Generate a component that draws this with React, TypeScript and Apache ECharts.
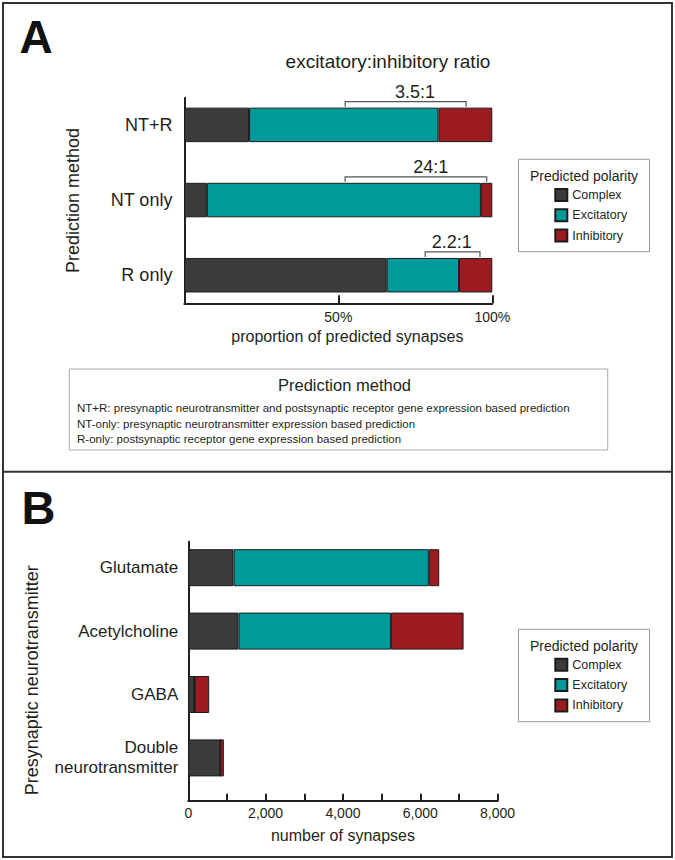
import React, { useEffect, useRef } from 'react';
import * as echarts from 'echarts';

// ---------- data ----------
const seriesNames = ['Complex', 'Excitatory', 'Inhibitory'];
const seriesColors = ['#3b3b3b', '#009a9a', '#9b1b20'];

// Panel A: proportion of predicted synapses (%)
const categoriesA = ['NT+R', 'NT only', 'R only'];
const complexA = [21.0, 7.3, 65.7];
const excitatoryA = [61.5, 89.0, 23.5];
const inhibitoryA = [17.5, 3.7, 10.8];

// excitatory:inhibitory ratio brackets (in % of axis)
const ratioLabels = ['3.5:1', '24:1', '2.2:1'];
const ratioStart = [52.2, 52.2, 78.2];
const ratioEnd = [91.5, 98.2, 96.0];
const ratioLabelAt = [74.9, 80.0, 86.8];

// Panel B: number of synapses
const categoriesB = ['Glutamate', 'Acetylcholine', 'GABA', 'Double\nneurotransmitter'];
const complexB = [1170, 1300, 160, 825];
const excitatoryB = [5050, 3940, 0, 0];
const inhibitoryB = [270, 1880, 380, 95];

const methodNotes = [
  'NT+R: presynaptic neurotransmitter and postsynaptic receptor gene expression based prediction',
  'NT-only: presynaptic neurotransmitter expression based prediction',
  'R-only: postsynaptic receptor gene expression based prediction',
];

// ---------- styles ----------
const FONT = '"Liberation Sans", Arial, Helvetica, sans-serif';
const INK = '#231f20';
const BAR_A = 34.5;
const BAR_B = 37;

function barSeries(name: string, idx: number, data: number[], axis: number, stack: string, width: number) {
  return {
    type: 'bar',
    name,
    stack,
    xAxisIndex: axis,
    yAxisIndex: axis,
    barWidth: width,
    data,
    itemStyle: { color: seriesColors[idx], borderColor: '#1c1c1c', borderWidth: 1 },
    emphasis: { disabled: true },
  };
}

function legendAt(top: number) {
  return {
    data: seriesNames,
    orient: 'vertical',
    left: 554.3,
    top,
    padding: 0,
    itemWidth: 12,
    itemHeight: 12,
    itemGap: 5.3,
    icon: 'rect',
    selectedMode: false,
    textStyle: { fontSize: 12.5, fontFamily: FONT, color: INK, lineHeight: 15, padding: [0, 0, 0, 0] },
  };
}

function legendBox(top: number) {
  return [
    {
      type: 'rect',
      shape: { x: 518.5, y: top, width: 131, height: 92.4 },
      style: { fill: 'none', stroke: '#9a9a9a', lineWidth: 1 },
    },
    {
      type: 'text',
      x: 584,
      y: top + 16.7,
      style: { text: 'Predicted polarity', fontSize: 14, fontFamily: FONT, fill: INK, align: 'center', verticalAlign: 'middle' },
    },
  ];
}

const axisLineStyle = { color: INK, width: 2 };

const option: any = {
  animation: false,
  textStyle: { fontFamily: FONT },
  grid: [
    { left: 184.4, top: 87.3, width: 307.9, height: 225.5 },
    { left: 184.4, top: 97.7, width: 307.9, height: 205.6 },
    { left: 188.3, top: 536, width: 309.3, height: 253.6 },
    { left: 188.3, top: 541.7, width: 309.3, height: 259 },
  ],
  xAxis: [
    { gridIndex: 0, type: 'value', min: 0, max: 100, show: false },
    {
      gridIndex: 1,
      type: 'value',
      min: 0,
      max: 100,
      interval: 50,
      axisLine: { show: true, onZero: false, lineStyle: axisLineStyle },
      axisTick: { show: true, inside: true, length: 8, lineStyle: axisLineStyle },
      axisLabel: {
        margin: 7,
        fontSize: 14,
        color: INK,
        fontFamily: FONT,
        formatter: (v: number) => (v === 0 ? '' : v + '%'),
      },
      splitLine: { show: false },
      name: 'proportion of predicted synapses',
      nameLocation: 'middle',
      nameGap: 25.5,
      nameTextStyle: { fontSize: 16, color: INK, fontFamily: FONT, padding: [0, 0, 0, 18] },
    },
    { gridIndex: 2, type: 'value', min: 0, max: 8000, show: false },
    {
      gridIndex: 3,
      type: 'value',
      min: 0,
      max: 8000,
      interval: 1000,
      axisLine: { show: true, onZero: false, lineStyle: axisLineStyle },
      axisTick: { show: true, inside: true, length: 7, lineStyle: axisLineStyle },
      axisLabel: {
        margin: 5.6,
        fontSize: 14,
        color: INK,
        fontFamily: FONT,
        formatter: (v: number) => (v % 2000 === 0 ? v.toLocaleString('en-US') : ''),
      },
      splitLine: { show: false },
      name: 'number of synapses',
      nameLocation: 'middle',
      nameGap: 26.3,
      nameTextStyle: { fontSize: 16, color: INK, fontFamily: FONT },
    },
  ],
  yAxis: [
    {
      gridIndex: 0,
      type: 'category',
      data: categoriesA,
      inverse: true,
      axisLine: { show: false },
      axisTick: { show: false },
      axisLabel: { margin: 12, fontSize: 18, color: INK, fontFamily: FONT },
    },
    {
      gridIndex: 1,
      type: 'value',
      min: 0,
      max: 1,
      axisLine: { show: true, onZero: false, lineStyle: axisLineStyle },
      axisTick: { show: false },
      axisLabel: { show: false },
      splitLine: { show: false },
      name: 'Prediction method',
      nameLocation: 'middle',
      nameRotate: 90,
      nameGap: 101,
      nameTextStyle: { fontSize: 18, color: INK, fontFamily: FONT, lineHeight: 20 },
    },
    {
      gridIndex: 2,
      type: 'category',
      data: categoriesB,
      inverse: true,
      axisLine: { show: false },
      axisTick: { show: false },
      axisLabel: { margin: 10, fontSize: 17, lineHeight: 20, color: INK, fontFamily: FONT },
    },
    {
      gridIndex: 3,
      type: 'value',
      min: 0,
      max: 1,
      axisLine: { show: true, onZero: false, lineStyle: axisLineStyle },
      axisTick: { show: false },
      axisLabel: { show: false },
      splitLine: { show: false },
      name: 'Presynaptic neurotransmitter',
      nameLocation: 'middle',
      nameRotate: 90,
      nameGap: 146,
      nameTextStyle: { fontSize: 18, color: INK, fontFamily: FONT, lineHeight: 20, padding: [0, 18, 0, 0] },
    },
  ],
  legend: [legendAt(187.5), legendAt(657.3)],
  series: [
    barSeries(seriesNames[0], 0, complexA, 0, 'A', BAR_A),
    barSeries(seriesNames[1], 1, excitatoryA, 0, 'A', BAR_A),
    barSeries(seriesNames[2], 2, inhibitoryA, 0, 'A', BAR_A),
    {
      type: 'custom',
      xAxisIndex: 0,
      yAxisIndex: 0,
      clip: false,
      silent: true,
      encode: { x: [0, 1, 3], y: 2 },
      data: categoriesA.map((_, i) => [ratioStart[i], ratioEnd[i], i, ratioLabelAt[i]]),
      renderItem: (params: any, api: any) => {
        const i = params.dataIndex;
        const a = api.coord([api.value(0), api.value(2)]);
        const b = api.coord([api.value(1), api.value(2)]);
        const t = api.coord([api.value(3), api.value(2)]);
        const ly = a[1] - BAR_A / 2 - 6;
        return {
          type: 'group',
          children: [
            {
              type: 'polyline',
              shape: { points: [[a[0], ly + 5], [a[0], ly], [b[0], ly], [b[0], ly + 5]] },
              style: { stroke: '#555', lineWidth: 1.2, fill: 'none' },
            },
            {
              type: 'text',
              x: t[0],
              y: ly - 9.5,
              style: { text: ratioLabels[i], fontSize: 18, fontFamily: FONT, fill: INK, align: 'center', verticalAlign: 'middle' },
            },
          ],
        };
      },
    },
    barSeries(seriesNames[0], 0, complexB, 2, 'B', BAR_B),
    barSeries(seriesNames[1], 1, excitatoryB, 2, 'B', BAR_B),
    barSeries(seriesNames[2], 2, inhibitoryB, 2, 'B', BAR_B),
  ],
  graphic: [
    {
      type: 'rect',
      shape: { x: 3, y: 3, width: 669, height: 854 },
      style: { fill: 'none', stroke: '#333', lineWidth: 2 },
    },
    {
      type: 'line',
      shape: { x1: 3, y1: 471.7, x2: 672, y2: 471.7 },
      style: { stroke: '#333', lineWidth: 2 },
    },
    {
      type: 'text',
      x: 19.5,
      y: 36.5,
      style: { text: 'A', fontSize: 46, fontWeight: 'bold', fontFamily: FONT, fill: '#111', align: 'left', verticalAlign: 'middle' },
    },
    {
      type: 'text',
      x: 21.5,
      y: 507,
      style: { text: 'B', fontSize: 47, fontWeight: 'bold', fontFamily: FONT, fill: '#111', align: 'left', verticalAlign: 'middle' },
    },
    {
      type: 'text',
      x: 388,
      y: 61.7,
      style: { text: 'excitatory:inhibitory ratio', fontSize: 19, fontFamily: FONT, fill: INK, align: 'center', verticalAlign: 'middle' },
    },
    ...legendBox(159.3),
    ...legendBox(629.3),
    {
      type: 'rect',
      shape: { x: 69.3, y: 369, width: 538.4, height: 81 },
      style: { fill: 'none', stroke: '#aaa', lineWidth: 1 },
    },
    {
      type: 'text',
      x: 344.5,
      y: 385,
      style: { text: 'Prediction method', fontSize: 16.5, fontFamily: FONT, fill: INK, align: 'center', verticalAlign: 'middle' },
    },
    ...methodNotes.map((s, i) => ({
      type: 'text',
      x: 77,
      y: 408.3 + i * 15.2,
      style: { text: s, fontSize: 11.5, fontFamily: FONT, fill: INK, align: 'left', verticalAlign: 'middle' },
    })),
  ],
};

export default function App() {
  const ref = useRef<HTMLDivElement>(null);
  useEffect(() => {
    const chart = echarts.init(ref.current as HTMLDivElement, null, { renderer: 'svg', width: 675, height: 860 });
    chart.setOption(option);
    return () => chart.dispose();
  }, []);
  return (
    <div
      ref={ref}
      style={{ position: 'absolute', left: 0, top: 0, width: 675, height: 860, background: '#fff' }}
    />
  );
}
